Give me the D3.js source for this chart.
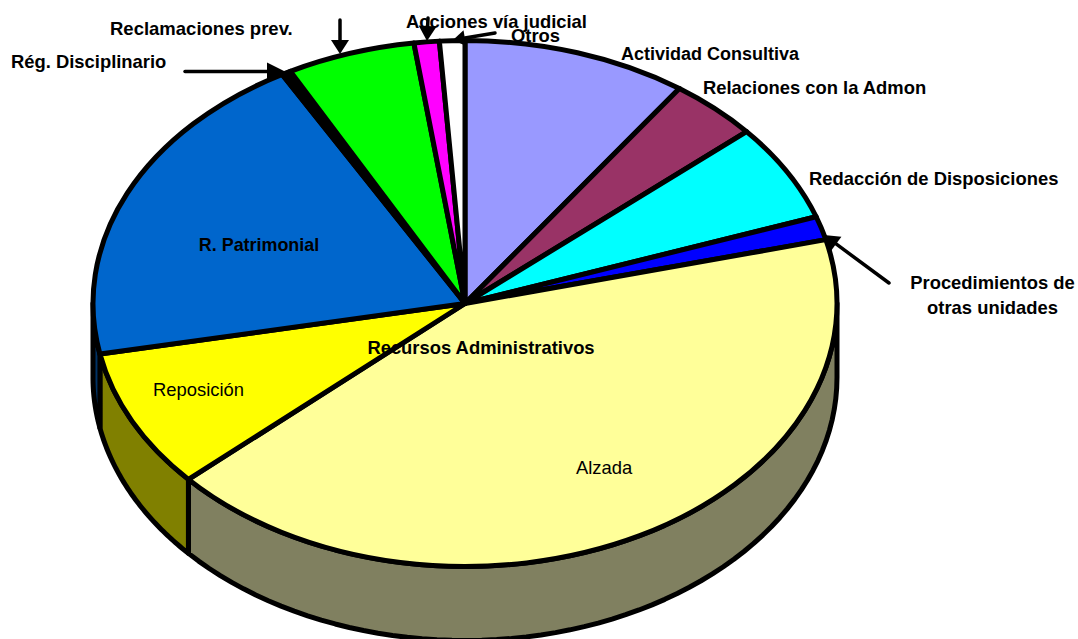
<!DOCTYPE html>
<html><head><meta charset="utf-8">
<script src="https://cdn.jsdelivr.net/npm/d3@7"></script>
<style>html,body{margin:0;padding:0;background:#fff}svg{display:block}text{font-family:"Liberation Sans",Arial,sans-serif;fill:#000}</style>
</head><body><svg id="c" width="1078" height="639"></svg>
<script>
const categories=["Actividad Consultiva","Relaciones con la Admon","Redacción de Disposiciones","Procedimientos de otras unidades","Alzada","Reposición","R. Patrimonial","Rég. Disciplinario","Reclamaciones prev.","Acciones vía judicial","Otros"];
const values=[9.8,3.9,6.0,1.45,42.35,8.6,19.95,0.4,5.6,1.1,1.1];
const topColors=["#9999FF","#993366","#00FFFF","#0000FF","#FFFF99","#FFFF00","#0066CC","#000000","#00FF00","#FF00FF","#FFFFFF"];
const sideColors=["#4D4D80","#4D1A33","#008080","#000080","#808060","#808000","#003366","#000000","#008000","#800080","#808080"];

const cx=465,cy=303.5,rx=372,ry=263,depth=74;
const svg=d3.select("#c");
const pie=d3.pie().sort(null).value(d=>d).startAngle(0).endAngle(2*Math.PI);
const arcs=pie(values);
const pt=(a,dy=0)=>[cx+rx*Math.sin(a),cy-ry*Math.cos(a)+dy];

// side wall: only the front half of the rim
const front=[Math.PI/2,3*Math.PI/2];
const line=d3.line();
const walls=svg.append("g");
arcs.forEach((d,i)=>{
  const a0=Math.max(d.startAngle,front[0]),a1=Math.min(d.endAngle,front[1]);
  if(a1<=a0)return;
  const as=d3.range(0,61).map(k=>a0+(a1-a0)*k/60);
  const p=as.map(a=>pt(a)).concat(as.slice().reverse().map(a=>pt(a,depth)));
  walls.append("path").attr("d",line(p)+"Z").attr("fill",sideColors[i])
    .attr("stroke","#000").attr("stroke-width",5).attr("stroke-linejoin","round");
});

// top face
const arc=d3.arc().innerRadius(0).outerRadius(rx);
svg.append("g").attr("transform",`translate(${cx},${cy}) scale(1,${ry/rx})`)
  .selectAll("path").data(arcs).join("path")
  .attr("d",arc).attr("fill",(d,i)=>topColors[i])
  .attr("stroke","#000").attr("stroke-width",5).attr("stroke-linejoin","round")
  .attr("vector-effect","non-scaling-stroke");

// leader arrows: [from, tip, head half-width, head length]
const leaders=[
 [[185,71.5],[285,71.5],9,18],
 [[340,20],[340,54],9,14],
 [[428,18],[427,41],9,15],
 [[495,33],[453,40],8,12],
 [[889,283],[824,235],9,15]
];
leaders.forEach(([a,b,w,l])=>{
  const dx=b[0]-a[0],dy=b[1]-a[1],n=Math.hypot(dx,dy),ux=dx/n,uy=dy/n;
  const bx=b[0]-ux*l,by=b[1]-uy*l;
  svg.append("path").attr("d",line([a,[bx,by]])).attr("stroke","#000").attr("stroke-width",3.5).attr("stroke-linecap","round").attr("fill","none");
  svg.append("path").attr("d",line([b,[bx-uy*w,by+ux*w],[bx+uy*w,by-ux*w]])+"Z").attr("fill","#000");
});

// text labels: text, x, y, anchor, bold, font size
const labelLayout=[
 ["Actividad Consultiva",621,59.5,"start",true,18],
 ["Relaciones con la Admon",703,93.5,"start",true,18.4],
 ["Redacción de Disposiciones",809,185,"start",true,18.4],
 ["Procedimientos de",992.5,289,"middle",true,18.4],
 ["otras unidades",992.5,314,"middle",true,18.4],
 ["Alzada",604,474,"middle",false,18.4],
 ["Reposición",198.5,396,"middle",false,18.4],
 ["R. Patrimonial",259,251,"middle",true,17.9],
 ["Rég. Disciplinario",11,67.5,"start",true,18.4],
 ["Reclamaciones prev.",110,35,"start",true,18.5],
 ["Acciones vía judicial",406,28,"start",true,18.4],
 ["Otros",511,42,"start",true,18.4],
 ["Recursos Administrativos",481,353.5,"middle",true,18.4]
];
svg.append("g").selectAll("text").data(labelLayout).join("text")
  .attr("x",d=>d[1]).attr("y",d=>d[2]).attr("text-anchor",d=>d[3])
  .attr("font-size",d=>d[5]).attr("font-weight",d=>d[4]?"bold":"normal").text(d=>d[0]);
</script></body></html>
